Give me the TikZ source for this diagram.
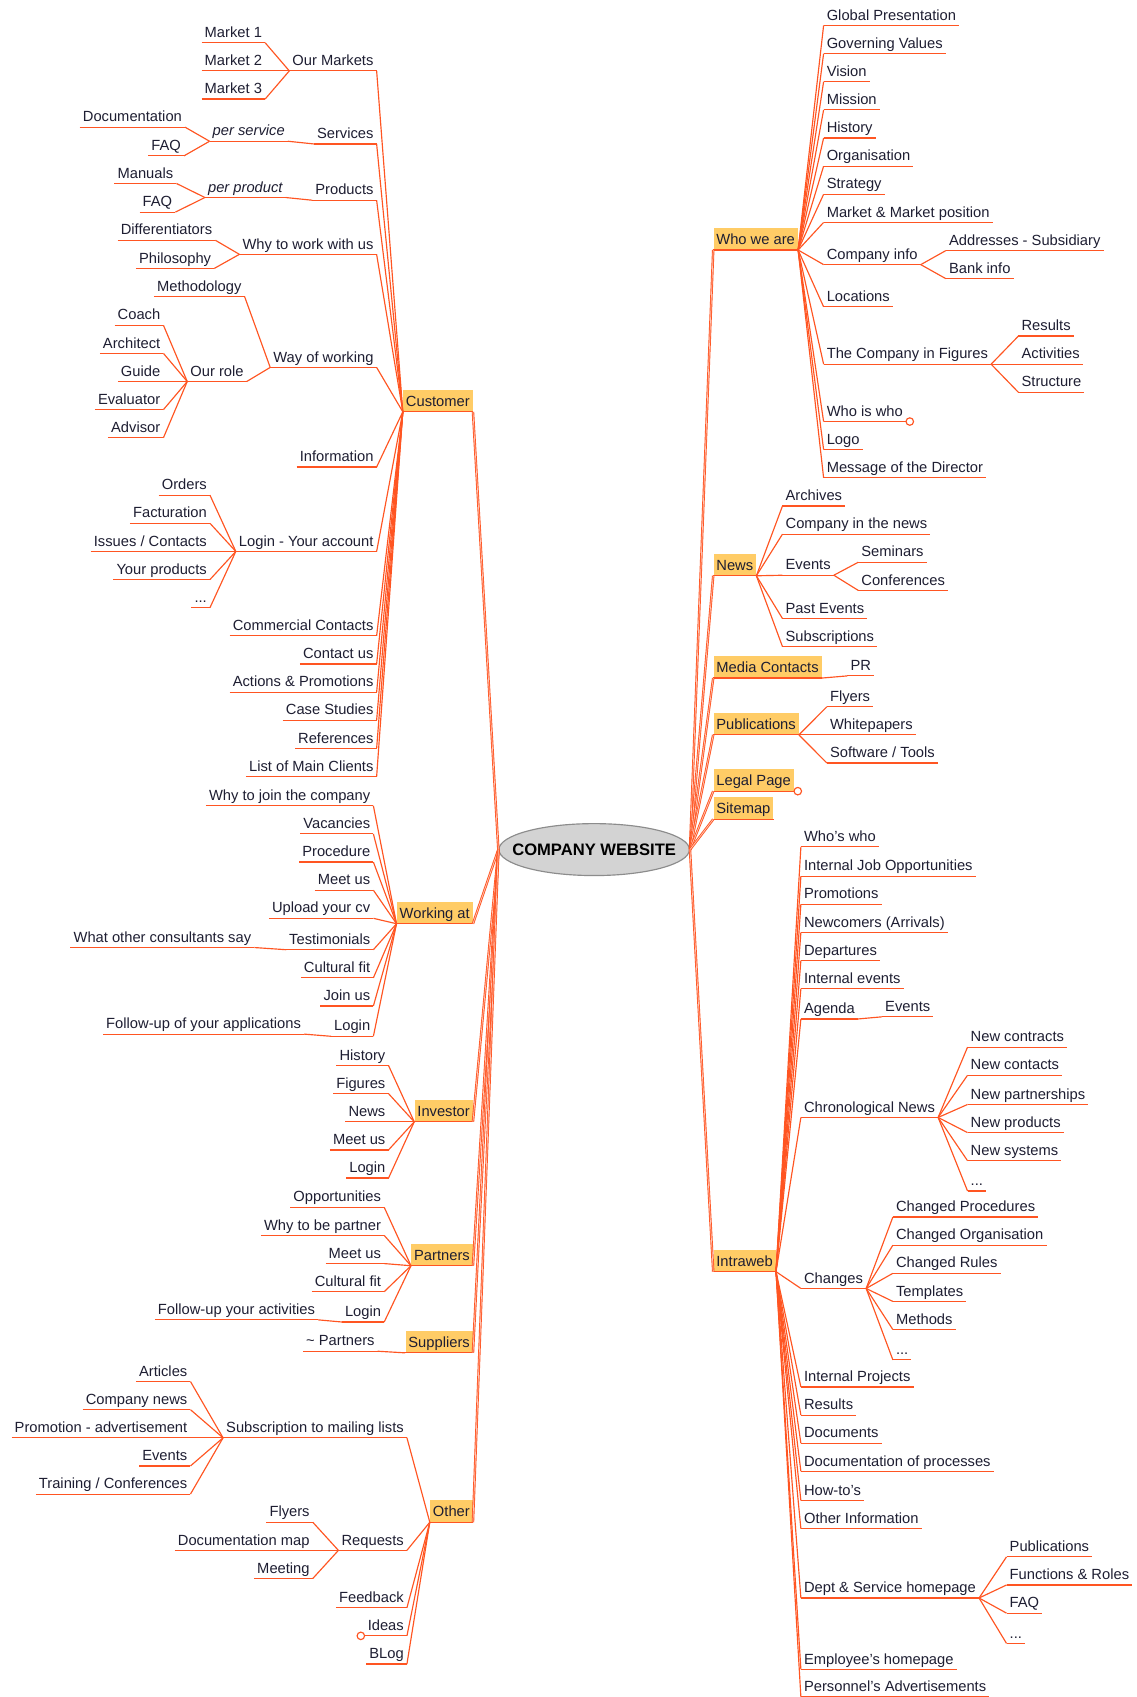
\documentclass[tikz,border=0pt]{standalone}
\usepackage{fontspec}
\setmainfont{Liberation Sans}
\usetikzlibrary{shapes.geometric}
\definecolor{lc}{RGB}{255,85,34}
\definecolor{bx}{RGB}{255,204,102}
\definecolor{tx}{RGB}{30,30,50}
\definecolor{elf}{RGB}{211,211,211}
\definecolor{eld}{RGB}{140,140,140}
\tikzset{
  lf/.style={text=tx, inner xsep=2pt, inner ysep=1pt, text height=7.2pt, text depth=2.5pt, font=\fontsize{10.2}{12}\selectfont},
  mn/.style={lf, fill=bx, text height=10.5pt},
  ul/.style={draw=lc, line width=0.8pt},
  cn/.style={draw=lc, line width=0.8pt},
  trunk/.style={draw=lc, line width=1.7pt},
  trunkin/.style={draw=lc!35!white, line width=0.5pt},
}
\newcommand\rleaf[5][lf]{\node[#1,anchor=south west] (#2) at (#3,#4) {#5};\draw[ul] (#2.south west) -- (#2.south east);}
\newcommand\lleaf[5][lf]{\node[#1,anchor=south east] (#2) at (#3,#4) {#5};\draw[ul] (#2.south west) -- (#2.south east);}
\newcommand\cnx[2]{\draw[cn] (#1.south east) -- (#2.south west);}
\newcommand\trk[2]{\draw[trunk] (#1) -- (#2);\draw[trunkin] (#1) -- (#2);}
\begin{document}
\begin{tikzpicture}[x=0.75pt,y=-0.75pt]
\useasboundingbox (0,0) rectangle (1050,1568);
\fill[white] (0,0) rectangle (1050,1568);

% ---------- centre ----------
\node[ellipse, draw=eld, fill=elf, line width=0.8pt, minimum width=132pt, minimum height=36pt, inner xsep=-11.5pt, inner ysep=0pt, font=\bfseries\fontsize{11.5}{13}\selectfont, text=black] (ctr) at (549,785) {COMPANY WEBSITE};

% ---------- LEFT: Customer ----------
\lleaf[mn]{cust}{437}{380.5}{Customer}
\lleaf{om}{348}{65.5}{Our Markets}
\lleaf{m1}{245}{39.5}{Market 1}
\lleaf{m2}{245}{65.5}{Market 2}
\lleaf{m3}{245}{91.5}{Market 3}
\lleaf{serv}{348}{133}{Services}
\lleaf{pserv}{266}{130.5}{\itshape per service}
\lleaf{doc}{171}{117.5}{Documentation}
\lleaf{faqa}{170}{144}{FAQ}
\lleaf{prod}{348}{185}{Products}
\lleaf{pprod}{264}{182.5}{\itshape per product}
\lleaf{man}{163}{169.5}{Manuals}
\lleaf{faqb}{162}{196}{FAQ}
\lleaf{why}{348}{235}{Why to work with us}
\lleaf{diff}{199}{222}{Differentiators}
\lleaf{phil}{198}{248}{Philosophy}
\lleaf{wow}{348}{339.5}{Way of working}
\lleaf{meth}{226}{274}{Methodology}
\lleaf{role}{228}{352.5}{Our role}
\lleaf{coach}{151}{300.5}{Coach}
\lleaf{arch}{151}{326.5}{Architect}
\lleaf{guide}{151}{352.5}{Guide}
\lleaf{eval}{151}{378.5}{Evaluator}
\lleaf{adv}{151}{404.5}{Advisor}
\lleaf{info}{348}{431.5}{Information}
\lleaf{login}{348}{509.5}{Login - Your account}
\lleaf{ord}{194}{457.5}{Orders}
\lleaf{fact}{194}{483.5}{Facturation}
\lleaf{iss}{194}{509.5}{Issues / Contacts}
\lleaf{yp}{194}{535.5}{Your products}
\lleaf{dotsa}{194}{561.5}{...}
\lleaf{cc}{348}{587.5}{Commercial Contacts}
\lleaf{cu}{348}{613.5}{Contact us}
\lleaf{ap}{348}{639.5}{Actions \& Promotions}
\lleaf{cs}{348}{665.5}{Case Studies}
\lleaf{refs}{348}{691.5}{References}
\lleaf{lmc}{348}{717.5}{List of Main Clients}

\cnx{m1}{om}\cnx{m2}{om}\cnx{m3}{om}
\cnx{doc}{pserv}\cnx{faqa}{pserv}\cnx{pserv}{serv}
\cnx{man}{pprod}\cnx{faqb}{pprod}\cnx{pprod}{prod}
\cnx{diff}{why}\cnx{phil}{why}
\cnx{coach}{role}\cnx{arch}{role}\cnx{guide}{role}\cnx{eval}{role}\cnx{adv}{role}
\cnx{meth}{wow}\cnx{role}{wow}
\cnx{ord}{login}\cnx{fact}{login}\cnx{iss}{login}\cnx{yp}{login}\cnx{dotsa}{login}
\cnx{om}{cust}\cnx{serv}{cust}\cnx{prod}{cust}\cnx{why}{cust}\cnx{wow}{cust}
\cnx{info}{cust}\cnx{login}{cust}\cnx{cc}{cust}\cnx{cu}{cust}\cnx{ap}{cust}
\cnx{cs}{cust}\cnx{refs}{cust}\cnx{lmc}{cust}

% ---------- LEFT: Working at ----------
\lleaf[mn]{wat}{437}{853.5}{Working at}
\lleaf{wj}{345}{744.5}{Why to join the company}
\lleaf{vac}{345}{770.5}{Vacancies}
\lleaf{proc}{345}{796.5}{Procedure}
\lleaf{meeta}{345}{822.5}{Meet us}
\lleaf{upl}{345}{848.5}{Upload your cv}
\lleaf{test}{345}{877.5}{Testimonials}
\lleaf{wocs}{235}{875.5}{What other consultants say}
\lleaf{cfa}{345}{903.5}{Cultural fit}
\lleaf{join}{345}{929.5}{Join us}
\lleaf{loga}{345}{957.5}{Login}
\lleaf{fua}{281}{955.5}{Follow-up of your applications}
\cnx{wocs}{test}\cnx{fua}{loga}
\cnx{wj}{wat}\cnx{vac}{wat}\cnx{proc}{wat}\cnx{meeta}{wat}\cnx{upl}{wat}
\cnx{test}{wat}\cnx{cfa}{wat}\cnx{join}{wat}\cnx{loga}{wat}

% ---------- LEFT: Investor ----------
\lleaf[mn]{inv}{437}{1036.5}{Investor}
\lleaf{hist}{359}{984.5}{History}
\lleaf{fig}{359}{1010.5}{Figures}
\lleaf{newsa}{359}{1036.5}{News}
\lleaf{meetb}{359}{1062.5}{Meet us}
\lleaf{logb}{359}{1088.5}{Login}
\cnx{hist}{inv}\cnx{fig}{inv}\cnx{newsa}{inv}\cnx{meetb}{inv}\cnx{logb}{inv}

% ---------- LEFT: Partners ----------
\lleaf[mn]{part}{437}{1169.5}{Partners}
\lleaf{opp}{355}{1115.5}{Opportunities}
\lleaf{wbp}{355}{1141.5}{Why to be partner}
\lleaf{meetc}{355}{1167.5}{Meet us}
\lleaf{cfb}{355}{1193.5}{Cultural fit}
\lleaf{logc}{355}{1221.5}{Login}
\lleaf{fuy}{294}{1219.5}{Follow-up your activities}
\cnx{fuy}{logc}
\cnx{opp}{part}\cnx{wbp}{part}\cnx{meetc}{part}\cnx{cfb}{part}\cnx{logc}{part}

% ---------- LEFT: Suppliers ----------
\lleaf[mn]{sup}{437}{1250}{Suppliers}
\lleaf{tpart}{349}{1248.5}{\textasciitilde{} Partners}
\cnx{tpart}{sup}

% ---------- LEFT: Other ----------
\lleaf[mn]{oth}{437}{1406.5}{Other}
\lleaf{sub}{376}{1328.5}{Subscription to mailing lists}
\lleaf{art}{176}{1276.5}{Articles}
\lleaf{cnews}{176}{1302.5}{Company news}
\lleaf{padv}{176}{1328.5}{Promotion - advertisement}
\lleaf{eva}{176}{1354.5}{Events}
\lleaf{tc}{176}{1380.5}{Training / Conferences}
\lleaf{req}{376}{1432.5}{Requests}
\lleaf{flya}{289}{1406.5}{Flyers}
\lleaf{dm}{289}{1432.5}{Documentation map}
\lleaf{mtg}{289}{1458.5}{Meeting}
\lleaf{fb}{376}{1485.5}{Feedback}
\lleaf{ideas}{376}{1511.5}{Ideas}
\lleaf{blog}{376}{1537.5}{BLog}
\cnx{art}{sub}\cnx{cnews}{sub}\cnx{padv}{sub}\cnx{eva}{sub}\cnx{tc}{sub}
\cnx{flya}{req}\cnx{dm}{req}\cnx{mtg}{req}
\cnx{sub}{oth}\cnx{req}{oth}\cnx{fb}{oth}\cnx{ideas}{oth}\cnx{blog}{oth}
\draw[ul,fill=white] ([xshift=-2.6pt]ideas.south west) circle (2.6pt);

% ---------- RIGHT: Who we are ----------
\rleaf[mn]{wwa}{659}{231}{Who we are}
\rleaf{gp}{761}{23.5}{Global Presentation}
\rleaf{gv}{761}{49.5}{Governing Values}
\rleaf{vis}{761}{75.5}{Vision}
\rleaf{mis}{761}{101.5}{Mission}
\rleaf{hst}{761}{127.5}{History}
\rleaf{org}{761}{153.5}{Organisation}
\rleaf{strat}{761}{179.5}{Strategy}
\rleaf{mmp}{761}{205.5}{Market \& Market position}
\rleaf{ci}{761}{244.5}{Company info}
\rleaf{addr}{874}{231.5}{Addresses - Subsidiary}
\rleaf{bank}{874}{257.5}{Bank info}
\rleaf{loc}{761}{283.5}{Locations}
\rleaf{tcf}{761}{336.5}{The Company in Figures}
\rleaf{resa}{941}{310.5}{Results}
\rleaf{act}{941}{336.5}{Activities}
\rleaf{struc}{941}{362.5}{Structure}
\rleaf{wiw}{761}{389.5}{Who is who}
\rleaf{logo}{761}{415.5}{Logo}
\rleaf{msg}{761}{441.5}{Message of the Director}
\draw[ul,fill=white] ([xshift=2.6pt]wiw.south east) circle (2.6pt);
\cnx{ci}{addr}\cnx{ci}{bank}
\cnx{tcf}{resa}\cnx{tcf}{act}\cnx{tcf}{struc}
\cnx{wwa}{gp}\cnx{wwa}{gv}\cnx{wwa}{vis}\cnx{wwa}{mis}\cnx{wwa}{hst}\cnx{wwa}{org}
\cnx{wwa}{strat}\cnx{wwa}{mmp}\cnx{wwa}{ci}\cnx{wwa}{loc}\cnx{wwa}{tcf}\cnx{wwa}{wiw}
\cnx{wwa}{logo}\cnx{wwa}{msg}

% ---------- RIGHT: News ----------
\rleaf[mn]{news}{659}{532}{News}
\rleaf{arc}{723}{467.5}{Archives}
\rleaf{citn}{723}{493.5}{Company in the news}
\rleaf{evb}{723}{531.5}{Events}
\rleaf{sem}{793}{519.5}{Seminars}
\rleaf{conf}{793}{545.5}{Conferences}
\rleaf{pe}{723}{571.5}{Past Events}
\rleaf{subs}{723}{597.5}{Subscriptions}
\cnx{evb}{sem}\cnx{evb}{conf}
\cnx{news}{arc}\cnx{news}{citn}\cnx{news}{evb}\cnx{news}{pe}\cnx{news}{subs}

% ---------- RIGHT: Media, Publications, Legal, Sitemap ----------
\rleaf[mn]{mc}{659}{626.5}{Media Contacts}
\rleaf{pr}{783}{624.5}{PR}
\cnx{mc}{pr}
\rleaf[mn]{pub}{659}{679}{Publications}
\rleaf{flyb}{764}{653}{Flyers}
\rleaf{wp}{764}{679}{Whitepapers}
\rleaf{sw}{764}{705}{Software / Tools}
\cnx{pub}{flyb}\cnx{pub}{wp}\cnx{pub}{sw}
\rleaf[mn]{lp}{659}{731}{Legal Page}
\draw[ul,fill=white] ([xshift=2.6pt]lp.south east) circle (2.6pt);
\rleaf[mn]{sm}{659}{757}{Sitemap}

% ---------- RIGHT: Intraweb ----------
\rleaf[mn]{intr}{659}{1175}{Intraweb}
\rleaf{ww}{740}{782.5}{Who's who}
\rleaf{ijo}{740}{809.5}{Internal Job Opportunities}
\rleaf{prom}{740}{835.5}{Promotions}
\rleaf{newc}{740}{861.5}{Newcomers (Arrivals)}
\rleaf{dep}{740}{887.5}{Departures}
\rleaf{ie}{740}{913.5}{Internal events}
\rleaf{ag}{740}{941.5}{Agenda}
\rleaf{evc}{815}{939.5}{Events}
\rleaf{chn}{740}{1032.5}{Chronological News}
\rleaf{nca}{894}{967.5}{New contracts}
\rleaf{ncb}{894}{993.5}{New contacts}
\rleaf{np}{894}{1020.5}{New partnerships}
\rleaf{npr}{894}{1046.5}{New products}
\rleaf{ns}{894}{1072.5}{New systems}
\rleaf{dotsb}{894}{1100.5}{...}
\rleaf{chg}{740}{1190.5}{Changes}
\rleaf{cp}{825}{1124.5}{Changed Procedures}
\rleaf{co}{825}{1150.5}{Changed Organisation}
\rleaf{cr}{825}{1176.5}{Changed Rules}
\rleaf{tmp}{825}{1202.5}{Templates}
\rleaf{meths}{825}{1228.5}{Methods}
\rleaf{dotsc}{825}{1256.5}{...}
\rleaf{ip}{740}{1281.5}{Internal Projects}
\rleaf{resb}{740}{1307.5}{Results}
\rleaf{docs}{740}{1333.5}{Documents}
\rleaf{dop}{740}{1359.5}{Documentation of processes}
\rleaf{ht}{740}{1386.5}{How-to's}
\rleaf{oi}{740}{1412.5}{Other Information}
\rleaf{dsh}{740}{1476.5}{Dept \& Service homepage}
\rleaf{pubs}{930}{1438.5}{Publications}
\rleaf{fr}{930}{1464.5}{Functions \& Roles}
\rleaf{faqc}{930}{1490.5}{FAQ}
\rleaf{dotsd}{930}{1518.5}{...}
\rleaf{eh}{740}{1542.5}{Employee's homepage}
\rleaf{padv2}{740}{1568}{Personnel's Advertisements}
\cnx{ag}{evc}
\cnx{chn}{nca}\cnx{chn}{ncb}\cnx{chn}{np}\cnx{chn}{npr}\cnx{chn}{ns}\cnx{chn}{dotsb}
\cnx{chg}{cp}\cnx{chg}{co}\cnx{chg}{cr}\cnx{chg}{tmp}\cnx{chg}{meths}\cnx{chg}{dotsc}
\cnx{dsh}{pubs}\cnx{dsh}{fr}\cnx{dsh}{faqc}\cnx{dsh}{dotsd}
\cnx{intr}{ww}\cnx{intr}{ijo}\cnx{intr}{prom}\cnx{intr}{newc}\cnx{intr}{dep}\cnx{intr}{ie}
\cnx{intr}{ag}\cnx{intr}{chn}\cnx{intr}{chg}\cnx{intr}{ip}\cnx{intr}{resb}\cnx{intr}{docs}
\cnx{intr}{dop}\cnx{intr}{ht}\cnx{intr}{oi}\cnx{intr}{dsh}\cnx{intr}{eh}\cnx{intr}{padv2}

% ---------- trunks ----------
\trk{cust.south east}{ctr.west}
\trk{wat.south east}{ctr.west}
\trk{inv.south east}{ctr.west}
\trk{part.south east}{ctr.west}
\trk{sup.south east}{ctr.west}
\trk{oth.south east}{ctr.west}
\trk{ctr.east}{wwa.south west}
\trk{ctr.east}{news.south west}
\trk{ctr.east}{mc.south west}
\trk{ctr.east}{pub.south west}
\trk{ctr.east}{lp.south west}
\trk{ctr.east}{sm.south west}
\trk{ctr.east}{intr.south west}
\end{tikzpicture}
\end{document}
